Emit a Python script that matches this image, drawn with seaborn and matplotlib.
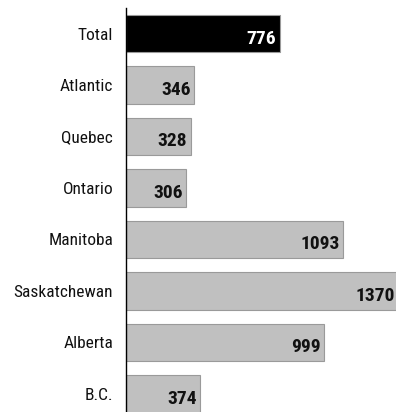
import matplotlib
matplotlib.use("Agg")
import matplotlib.pyplot as plt
import seaborn as sns
import pandas as pd

regions = ["Total", "Atlantic", "Quebec", "Ontario", "Manitoba",
           "Saskatchewan", "Alberta", "B.C."]
values = [776, 346, 328, 306, 1093, 1370, 999, 374]
bar_colors = ["#000000"] + ["#c0c0c0"] * 7
label_colors = ["#ffffff"] + ["#111111"] * 7

sns.set_theme(style="white")
plt.rcParams["font.family"] = ["Roboto Condensed", "DejaVu Sans"]

df = pd.DataFrame({"region": regions, "value": values})

fig = plt.figure(figsize=(3.96, 4.12), dpi=100)
ax = fig.add_axes([125.5 / 396, -7.5 / 412, 272.5 / 396, 411.5 / 412])

sns.barplot(data=df, x="value", y="region", hue="region", palette=bar_colors,
            legend=False, width=0.73, edgecolor="#9a9a9a", linewidth=0.8,
            saturation=1, ax=ax, orient="h")

ax.set_xlim(0, 1370)
ax.set_ylim(7.5, -0.5)
ax.set_xlabel("")
ax.set_ylabel("")
ax.set_xticks([])
for s in ["top", "right", "bottom"]:
    ax.spines[s].set_visible(False)
ax.spines["left"].set_color("black")
ax.spines["left"].set_linewidth(1.0)
ax.tick_params(axis="y", length=0, pad=9, labelsize=12.5, labelcolor="#111111")

for i, (v, c) in enumerate(zip(values, label_colors)):
    ax.annotate(f"{v}", xy=(v, i), xytext=(-2.5, -3.5), textcoords="offset points",
                ha="right", va="center", fontsize=14, fontweight="bold", color=c)

fig.savefig("out.png", dpi=100)
